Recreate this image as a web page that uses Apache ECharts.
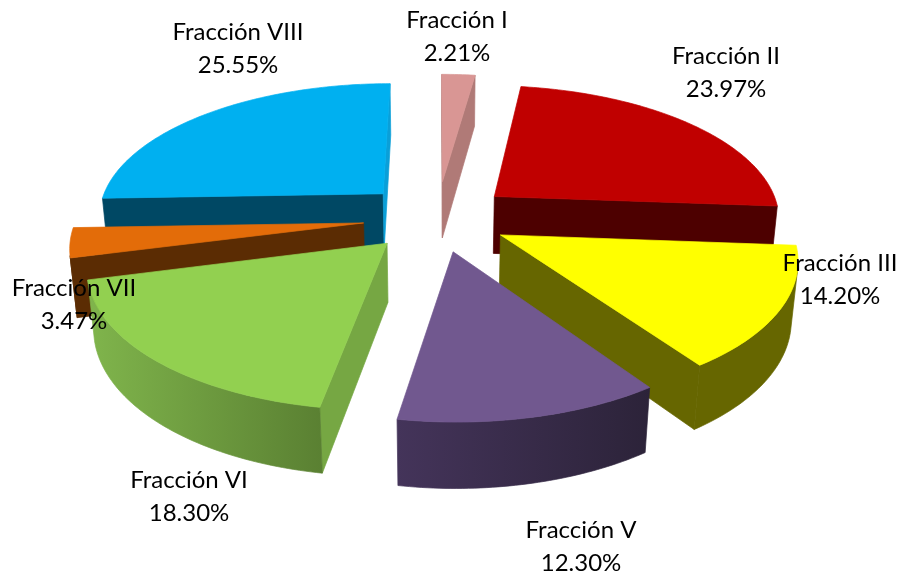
<!DOCTYPE html>
<html>
<head>
<meta charset="utf-8">
<title>Fracciones</title>
<script src="https://cdn.jsdelivr.net/npm/echarts@6/dist/echarts.min.js"></script>
<style>
html,body{margin:0;padding:0;background:#fff}
#chart{width:901px;height:573px}
</style>
</head>
<body>
<div id="chart"></div>
<script>
var categories = ['Fracción I','Fracción II','Fracción III','Fracción V','Fracción VI','Fracción VII','Fracción VIII'];
var shares = [2.21,23.97,14.20,12.30,18.30,3.47,25.55];

// estilos por rebanada
var topColors = ['#d99694','#c00000','#ffff00','#71588f','#92d050','#e36c09','#00b0f0'];
var sideLeft = ['#b07a77','#4d0000','#666600','#44345a','#80b54c','#5b2c03','#004864'];
var sideRight = ['#b07a77','#4d0000','#666600','#2c2339','#5a8032','#5b2c03','#004864'];
var startColors = ['#b07a77','#4d0000','#666600','#2c2339','#76a743','#5b2c03','#004864'];
var endColors = ['#b07a77','#4d0000','#666600','#2c2339','#76a743','#5b2c03','#0a9fd8'];
var explode = [0.285,0.263,0.25,0.25,0.25,0.257,0.268];
var labelPos = [[457,37],[726,73],[840,280],[581,547],[189,497],[74,305],[238,49]];

// camara del pastel 3D
var cx = 437, cy = 218, R = 287, tilt = 27.7*Math.PI/180, dist = 5.9, thick = 0.232;

function project(u,v,z){
    var s = dist/(dist - v*Math.cos(tilt) - z*Math.sin(tilt));
    return [cx + R*u*s, cy + R*(v*Math.sin(tilt) - z*Math.cos(tilt))*s];
}
function area(pts){
    var a = 0;
    for(var i=0;i<pts.length;i++){
        var p = pts[i], q = pts[(i+1)%pts.length];
        a += p[0]*q[1] - q[0]*p[1];
    }
    return a/2;
}

// de atras hacia adelante
var rows = [], acc = 0;
shares.forEach(function(s,i){
    rows.push([acc,s,i]);
    acc += s;
});
rows.sort(function(a,b){
    return Math.cos((a[0]+a[1]/2)*Math.PI/50) < Math.cos((b[0]+b[1]/2)*Math.PI/50) ? 1 : -1;
});

function renderSlice(params,api){
    var start = api.value(0)*Math.PI/50,
        end = (api.value(0)+api.value(1))*Math.PI/50,
        idx = api.value(2),
        mid = (start+end)/2,
        e = explode[idx],
        ox = e*Math.sin(mid), oy = -e*Math.cos(mid);
    function rim(t,z){ return project(ox+Math.sin(t),oy-Math.cos(t),z); }
    var apexTop = project(ox,oy,0), apexBot = project(ox,oy,-thick);
    var children = [];
    function poly(pts,fill){
        children.push({type:'polygon',shape:{points:pts},style:{fill:fill,stroke:fill,lineWidth:0.7}});
    }
    // caras radiales
    var startFace = [apexTop,rim(start,0),rim(start,-thick),apexBot];
    var endFace = [apexBot,rim(end,-thick),rim(end,0),apexTop];
    if(area(startFace)<0) poly(startFace,startColors[idx]);
    if(area(endFace)<0) poly(endFace,endColors[idx]);
    // cara exterior, solo lo visible
    var n = Math.ceil((end-start)/(Math.PI/180)), tops = [], bots = [];
    for(var k=0;k<n;k++){
        var t0 = start+(end-start)*k/n, t1 = start+(end-start)*(k+1)/n;
        var quad = [rim(t0,0),rim(t1,0),rim(t1,-thick),rim(t0,-thick)];
        if(area(quad)<0){
            if(!tops.length){ tops.push(quad[0]); bots.push(quad[3]); }
            tops.push(quad[1]); bots.push(quad[2]);
        }
    }
    if(tops.length){
        var outerFill = sideLeft[idx]==sideRight[idx] ? sideLeft[idx] : new echarts.graphic.LinearGradient(0,0,1,0,[
            {offset:0,color:sideLeft[idx]},{offset:1,color:sideRight[idx]}
        ]);
        poly(tops.concat(bots.reverse()),outerFill);
    }
    // cara superior
    var topPts = [apexTop];
    for(var j=0;j<=n;j++) topPts.push(rim(start+(end-start)*j/n,0));
    poly(topPts,topColors[idx]);
    children.push({
        type:'text',z2:100,
        x:labelPos[idx][0],y:labelPos[idx][1],
        style:{
            text:categories[idx]+'\n'+shares[idx].toFixed(2)+'%',
            fontFamily:'Lato',fontSize:24,lineHeight:33,fill:'#000',
            align:'center',verticalAlign:'middle'
        }
    });
    return {type:'group',children:children};
}

var chart = echarts.init(document.getElementById('chart'));
chart.setOption({
    backgroundColor:'#fff',
    animation:false,
    series:[{
        type:'custom',
        coordinateSystem:'none',
        renderItem:renderSlice,
        data:rows
    }]
});
</script>
</body>
</html>
